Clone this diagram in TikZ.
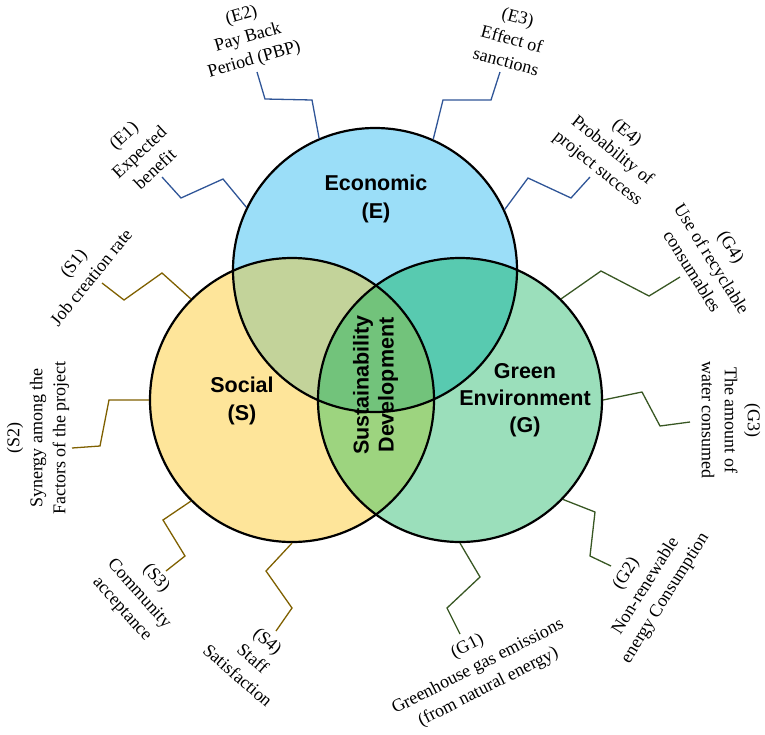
\documentclass[tikz,border=0pt]{standalone}
\usepackage{fontspec}
\setmainfont{Liberation Serif}
\setsansfont{Liberation Sans}

\definecolor{ecofill}{HTML}{9BDEF8}
\definecolor{socfill}{HTML}{FEE59A}
\definecolor{grnfill}{HTML}{9BDFBB}
\definecolor{esfill}{HTML}{C3D39A}
\definecolor{egfill}{HTML}{58CAB0}
\definecolor{sgfill}{HTML}{9DD47F}
\definecolor{allfill}{HTML}{72C37B}
\definecolor{ecoline}{HTML}{2F5597}
\definecolor{socline}{HTML}{7F6000}
\definecolor{grnline}{HTML}{385723}

\tikzset{
  ring/.style={draw=black, line width=2.2pt, circle, minimum size=284pt, inner sep=0pt},
  title/.style={font=\sffamily\bfseries\fontsize{21.5}{28}\selectfont, align=center, inner sep=0pt},
  factor/.style={font=\fontsize{18}{23}\selectfont, align=center, inner sep=0pt},
  ecolink/.style={draw=ecoline, line width=1.3pt},
  soclink/.style={draw=socline, line width=1.3pt},
  grnlink/.style={draw=grnline, line width=1.3pt}
}

\begin{document}
\begin{tikzpicture}[x=1pt,y=-1pt]
\useasboundingbox (0,0) rectangle (765,734);

\coordinate (E) at (375,270);
\coordinate (S) at (292,400);
\coordinate (G) at (460,400);

%fyllning av cirklarna
\fill[socfill] (S) circle (142pt);
\fill[grnfill] (G) circle (142pt);
\fill[ecofill] (E) circle (142pt);
\begin{scope}
\clip (E) circle (142pt);
\fill[esfill] (S) circle (142pt); %E och S
\fill[egfill] (G) circle (142pt); %E och G
\end{scope}
\begin{scope}
\clip (S) circle (142pt);
\fill[sgfill] (G) circle (142pt); %S och G
\clip (E) circle (142pt);
\fill[allfill] (G) circle (142pt); %alla tre
\end{scope}

\node[ring] (eco) at (E) {};
\node[ring] (soc) at (S) {};
\node[ring] (grn) at (G) {};

\node[title] (ecotxt) at (376,199) {Economic\\(E)};
\node[title] (soctxt) at (242,401) {Social\\(S)};
\node[title, font=\sffamily\bfseries\fontsize{21.5}{27}\selectfont] (grntxt) at (525,400) {Green\\Environment\\(G)};
\node[title, rotate=90, font=\sffamily\bfseries\fontsize{21.5}{25}\selectfont] (sustxt) at (375.5,385) {Sustainability\\Development};

%ekonomiska faktorer
\node[factor, rotate=43] (e1) at (139,152) {(E1)\\Expected\\benefit};
\node[factor, rotate=16] (e2) at (248,38) {(E2)\\Pay Back\\Period (PBP)};
\node[factor, rotate=-15] (e3) at (512,39) {(E3)\\Effect of\\sanctions};
\node[factor, rotate=-39] (e4) at (612,151) {(E4)\\Probability of\\project success};

\draw[ecolink] (eco.154) -- (223,179) -- (181,198) -- (162,177);
\draw[ecolink] (eco.113) -- (312,100) -- (265,99) -- (257,72);
\draw[ecolink] (eco.66) -- (443,100) -- (491,100) -- (500,72);
\draw[ecolink] (eco.25) -- (528,178) -- (571,198) -- (590,177);

%sociala faktorer
\node[factor, rotate=51] (s1) at (82,270) {(S1)\\Job creation rate};
\node[factor, rotate=90] (s2) at (38,438) {(S2)\\Synergy among the\\Factors of the project};
\node[factor, rotate=-48] (s3) at (139,594) {(S3)\\Community\\acceptance};
\node[factor, rotate=-41] (s4) at (253,658) {(S4)\\Staff\\Satisfaction};

\draw[soclink] (soc.135) -- (162,273) -- (124,300) -- (102,283);
\draw[soclink] (soc.180) -- (109,400) -- (100,446) -- (72,448);
\draw[soclink] (soc.225) -- (163,520) -- (185,556) -- (166,571);
\draw[soclink] (soc.270) -- (266,571) -- (292,608) -- (276,631);

%gröna faktorer
\node[factor, rotate=27] (g1) at (478,667) {(G1)\\Greenhouse gas emissions\\(from natural energy)};
\node[factor, rotate=58] (g2) at (646,586) {(G2)\\Non-renewable\\energy Consumption};
\node[factor, rotate=-90] (g3) at (731,420) {(G3)\\The amount of\\water consumed};
\node[factor, rotate=-58] (g4) at (712,259) {(G4)\\Use of recyclable\\consumables};

\draw[grnlink] (grn.270) -- (480,577) -- (447,608) -- (460,634);
\draw[grnlink] (grn.316) -- (595,512) -- (590,556) -- (611,566);
\draw[grnlink] (grn.0) -- (642,392) -- (660,426) -- (690,422);
\draw[grnlink] (grn.45) -- (601,271) -- (649,296) -- (680,277);

\end{tikzpicture}
\end{document}
